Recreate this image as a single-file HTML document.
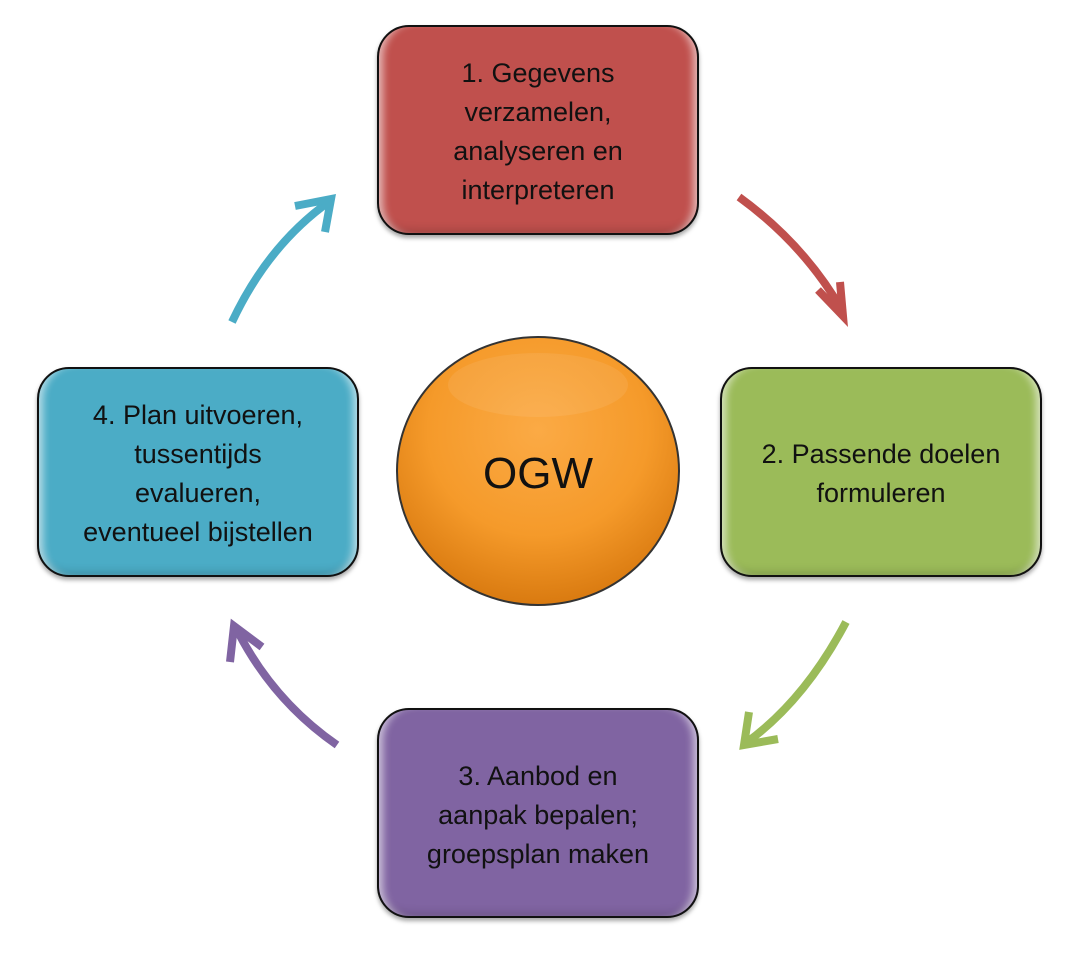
<!DOCTYPE html>
<html><head><style>
body{margin:0;background:#fff;width:1081px;height:954px;overflow:hidden;position:relative;font-family:"Liberation Sans",sans-serif}
.b{position:absolute;width:318px;height:206px;border:2px solid #111;border-radius:32px;display:flex;align-items:center;justify-content:center;text-align:center;font-size:27px;line-height:39px;color:#111;padding-top:4px;box-sizing:border-box;width:322px;height:210px;box-shadow:0 3px 4px rgba(0,0,0,.35),inset 10px 0 8px -6px rgba(255,255,255,.6),inset -10px 0 8px -6px rgba(255,255,255,.6),inset 0 -8px 10px -6px rgba(0,0,0,.2)}
</style></head><body>
<svg width="1081" height="954" style="position:absolute;left:0;top:0">
<defs><radialGradient id="g" cx="50%" cy="35%" r="65%"><stop offset="0" stop-color="#fbaa45"/><stop offset="0.6" stop-color="#f59a2a"/><stop offset="1" stop-color="#d97a10"/></radialGradient></defs>
<g fill="none" stroke-width="8" stroke-linecap="butt">
<path d="M739 197 Q805 245 843 312" stroke="#c0504d"/>
<path d="M818 290 L843 316 L840 282" stroke="#c0504d" stroke-linejoin="miter"/>
<path d="M846 622 Q805 700 746 743" stroke="#9bbb59"/>
<path d="M749 712 L744 745 L778 739" stroke="#9bbb59"/>
<path d="M337 745 Q272 700 236 628" stroke="#8064a2"/>
<path d="M230 662 L234 626 L262 647" stroke="#8064a2"/>
<path d="M232 322 Q268 245 330 201" stroke="#4bacc6"/>
<path d="M295 206 L331 199 L325 232" stroke="#4bacc6"/>
</g>
<ellipse cx="538" cy="471" rx="141" ry="134" fill="url(#g)" stroke="#333" stroke-width="2"/>
<ellipse cx="538" cy="385" rx="90" ry="32" fill="rgba(255,255,255,.08)"/>
<text x="538" y="488" text-anchor="middle" font-size="44" font-family="Liberation Sans" fill="#111">OGW</text>
</svg>
<div class="b" style="left:377px;top:25px;background:#c0504d">1. Gegevens<br>verzamelen,<br>analyseren en<br>interpreteren</div>
<div class="b" style="left:720px;top:367px;background:#9bbb59">2. Passende doelen<br>formuleren</div>
<div class="b" style="left:377px;top:708px;background:#8064a2">3. Aanbod en<br>aanpak bepalen;<br>groepsplan maken</div>
<div class="b" style="left:37px;top:367px;background:#4bacc6">4. Plan uitvoeren,<br>tussentijds<br>evalueren,<br>eventueel bijstellen</div>
</body></html>
